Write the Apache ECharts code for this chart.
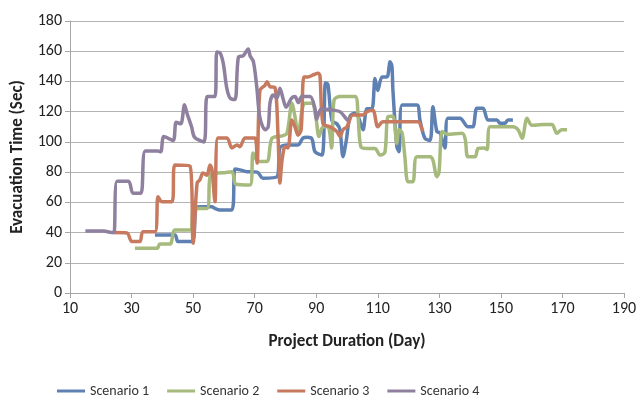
<!DOCTYPE html>
<html lang="en">
<head>
    <meta charset="UTF-8">
    <title></title>
    <script type="text/javascript" src="https://cdn.jsdelivr.net/npm/echarts@6/dist/echarts.min.js"></script>
</head>
<body style="margin:0">
<div id="chart" style="width: 638px;height: 395px"></div>
<script type="text/javascript">
    // [day, evacuation time]
    var scenario1 = [[37.6,38.4],[44.1,38.4],[45.1,34],[49.6,34],[50.9,56],[52.2,57],[56.1,57],[57.1,56],[58.7,55],[62.6,55],
        [63.6,82],[65.2,81.5],[67.5,80.3],[70.8,80],[72.7,76],[77.3,77],[78.2,96],[80.5,98],[84.1,98],[85.7,102.6],
        [87,103],[88.6,102],[89.6,93.5],[91.9,91.3],[93,139],[93.8,138],[95.1,114],[96.7,112],[97.7,108],[98.7,90.2],
        [99.7,100],[101,117],[102.6,119],[103.6,117],[105.2,108],[106.5,122],[108.1,122],[109.1,142],[110,134],[111.4,143],
        [113,143],[114,153],[114.6,150],[114.9,135],[116.2,96.8],[116.9,93.5],[117.9,124.4],[122.7,124.4],[123.7,114.5],[125.3,102.4],
        [127,101],[127.9,123.3],[129.2,106.8],[130.2,106],[131.8,96],[132.8,115.6],[136.7,115.6],[139.3,110],[140.9,110],[142.2,122.2],
        [144.2,122.2],[145.8,114.5],[148.7,114.5],[149.7,112.3],[151.3,112.3],[152.3,114.5],[153.9,114.5]];
    var scenario2 = [[31.1,29.6],[38.3,29.6],[39.2,32.4],[42.5,32.4],[44.1,41.7],[49,41.7],[50.3,56],[54.5,56],[55.8,79],[59.7,79.5],
        [62.6,80.3],[63.9,72],[68.5,71.5],[69.5,92.6],[71.1,87],[74,87],[75.6,102.4],[78.9,104],[80.5,105.7],[82.1,125.5],
        [83.1,116.7],[84.1,104.6],[85.4,121],[86.3,125.5],[88.6,125.5],[89.9,116],[90.9,103.5],[92.2,110],[93.8,110],[95,96],
        [95.8,127.7],[97.7,130],[102.6,130],[103.6,116.7],[104.5,96.8],[106.5,95.7],[109.1,95.7],[110.7,91.3],[112.3,93],[113.3,116.7],
        [114.9,117],[116.2,99],[116.9,108],[117.9,106],[118.8,90.2],[119.8,73.7],[121.4,73.7],[122.7,90.2],[127,90.2],[127.9,88],
        [129.2,77],[129.9,80],[130.9,106.8],[132.5,105],[137.4,105.7],[138.4,102],[139.3,90.2],[141.6,90.2],[142.6,95.7],[144.5,96],
        [145.5,95],[146.5,110],[153.9,110],[155.6,108],[156.9,102.4],[158.5,115.6],[160.1,111],[163.7,111.5],[166.6,111.5],[168.2,105.7],
        [169.8,108],[171.5,108]];
    var scenario3 = [[24,40],[28.5,39.7],[30.1,34],[32.7,34],[33.7,40.6],[37.6,40.6],[38.6,63.7],[39.9,60.4],[43.1,60.4],[44.1,84.7],
        [49,84],[50,33],[51.3,72.8],[52.2,74.8],[53.2,79.4],[54.5,78],[55.5,84.7],[56.1,82],[57.1,60.4],[58.1,102.6],
        [61,102.6],[62.6,96],[64.3,98],[65.2,96.8],[66.9,102.6],[70.1,102.6],[70.8,86],[71.7,134],[73.4,137.6],[74,139.8],
        [75,136.5],[76.6,136],[77.6,103.5],[78.2,72.8],[78.9,88],[79.9,96.8],[80.8,96],[82.1,114.5],[83.1,110],[84.1,104.6],
        [85.1,108],[86,143],[87.3,143],[89,144.3],[90.6,145.4],[91.2,144],[92.2,112],[94.5,110],[96.7,106.8],[97.7,103.5],
        [98.7,108],[100,110],[101.9,117.8],[105.2,117.8],[106.5,120],[108.4,121],[110,110],[111.7,113.4],[123.1,113.4],[124.4,108],
        [124.7,107]];
    var scenario4 = [[15,41],[21,41],[23.5,40],[24.3,40],[25.3,74],[29,74],[30.5,66],[33,66],[34.5,94],[38.5,94],
        [39.5,93.5],[40.5,103.5],[43.5,101],[44.5,113],[46,112],[47.2,124.5],[48,119],[49.5,110],[50.5,103],[53.5,100],
        [54.6,130],[57.1,130],[57.7,159.5],[58.7,159],[59.8,152],[60.9,136],[62,129],[63.6,128],[64.7,156],[66.3,157],
        [67.9,161.5],[68.5,157],[69.6,153],[70.7,136],[71.7,116],[73.4,108],[74.4,110],[75,126],[76,131],[77.2,129],
        [78.2,135.5],[79.3,128],[80.2,123],[82,129],[83.1,130],[84.2,126],[85.3,130],[88,130],[89.6,122],[90.1,115],
        [91.7,122],[95.5,121],[97.7,120],[99.9,115],[100.4,114]];
    var seriesNames = ['Scenario 1', 'Scenario 2', 'Scenario 3', 'Scenario 4'];
    var seriesData = [scenario1, scenario2, scenario3, scenario4];
    var colors = ['#5f80b3', '#a5ba7c', '#c77a5e', '#8e809e'];

    var font = 'Carlito, Lato, sans-serif';
    var myChart = echarts.init(document.getElementById('chart'));
    var option = {
        animation: false,
        color: colors,
        grid: {left: 70, right: 14, top: 21, bottom: 102, outerBoundsMode: 'none', containLabel: false},
        legend: {
            left: 52,
            top: 379,
            itemWidth: 28,
            itemHeight: 3,
            itemGap: 18,
            icon: 'rect',
            textStyle: {fontFamily: font, fontSize: 14, color: '#333'},
            data: seriesNames
        },
        xAxis: {
            type: 'value',
            min: 10,
            max: 190,
            interval: 20,
            name: 'Project Duration (Day)',
            nameLocation: 'middle',
            nameGap: 40,
            nameTextStyle: {fontFamily: font, fontSize: 17, fontWeight: 'bold', color: '#222'},
            axisLine: {lineStyle: {color: '#a6a6a6'}},
            axisTick: {show: true, length: 5, lineStyle: {color: '#a6a6a6'}},
            axisLabel: {fontFamily: font, fontSize: 16, color: '#222', margin: 8},
            splitLine: {show: false}
        },
        yAxis: {
            type: 'value',
            min: 0,
            max: 180,
            interval: 20,
            name: 'Evacuation Time (Sec)',
            nameLocation: 'middle',
            nameGap: 44,
            nameTextStyle: {fontFamily: font, fontSize: 17, fontWeight: 'bold', color: '#222'},
            axisLine: {show: true, lineStyle: {color: '#a6a6a6'}},
            axisTick: {show: true, length: 5, lineStyle: {color: '#a6a6a6'}},
            axisLabel: {fontFamily: font, fontSize: 16, color: '#222', margin: 8},
            splitLine: {lineStyle: {color: '#b4b4b4'}}
        },
        series: seriesNames.map(function (name, i) {
            return {
                name: name,
                type: 'line',
                data: seriesData[i],
                smooth: 0.3,
                symbol: 'none',
                lineStyle: {width: 3.5, color: colors[i]}
            };
        })
    };
    myChart.setOption(option);
</script>
</body>
</html>
